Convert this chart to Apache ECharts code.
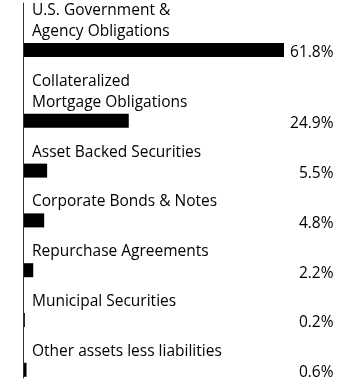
<!DOCTYPE html>
<html>
<head>
<meta charset="utf-8">
<script src="https://cdn.jsdelivr.net/npm/echarts@6/dist/echarts.min.js"></script>
<style>
  html, body { margin: 0; padding: 0; background: #fff; }
  #main { width: 360px; height: 385px; }
</style>
</head>
<body>
<div id="main"></div>
<script>
var categories = [
    "U.S. Government &\nAgency Obligations",
    "Collateralized\nMortgage Obligations",
    "Asset Backed Securities",
    "Corporate Bonds & Notes",
    "Repurchase Agreements",
    "Municipal Securities",
    "Other assets less liabilities"
];
var values = [61.8, 24.9, 5.5, 4.8, 2.2, 0.2, 0.6];

var FONT = "'Open Sans', sans-serif";
var FSIZE = 15.5;
var lineH = 21, rowGap = 28.8, barH = 14;

function buildOption() {
    var grids = [], xAxes = [], yAxes = [], series = [];
    var y = 1;
    for (var i = 0; i < categories.length; i++) {
        var lines = categories[i].split("\n").length;
        y += lineH * lines;
        grids.push({ left: 24, width: 294.5, top: y, height: barH });
        xAxes.push({ gridIndex: i, type: 'value', min: 0, max: 70, show: false });
        yAxes.push({ gridIndex: i, type: 'category', data: [categories[i]], show: false });
        yAxes.push({
            gridIndex: i, type: 'category', position: 'right',
            data: [values[i].toFixed(1) + '%'],
            axisLine: { show: false }, axisTick: { show: false },
            axisLabel: {
                align: 'right', verticalAlign: 'top', lineHeight: 6,
                margin: 15, color: '#000',
                fontFamily: FONT, fontSize: FSIZE
            }
        });
        series.push({
            type: 'bar', xAxisIndex: i, yAxisIndex: i * 2,
            data: [values[i]], barWidth: barH,
            itemStyle: { color: '#000' },
            silent: true,
            label: {
                show: true, position: [8, -1],
                align: 'left', verticalAlign: 'bottom',
                formatter: categories[i],
                color: '#000', fontFamily: FONT, fontSize: FSIZE, lineHeight: lineH
            }
        });
        y += rowGap;
    }
    // vertical baseline
    var n = categories.length;
    grids.push({ left: 23, width: 1, top: 3, bottom: 7 });
    xAxes.push({ gridIndex: n, type: 'value', show: false });
    yAxes.push({
        gridIndex: n, type: 'value',
        axisLine: { show: true, lineStyle: { color: '#333', width: 1 } },
        axisTick: { show: false }, axisLabel: { show: false }, splitLine: { show: false }
    });
    return { animation: false, grid: grids, xAxis: xAxes, yAxis: yAxes, series: series };
}

var chart = echarts.init(document.getElementById('main'));
chart.setOption(buildOption());
</script>
</body>
</html>
